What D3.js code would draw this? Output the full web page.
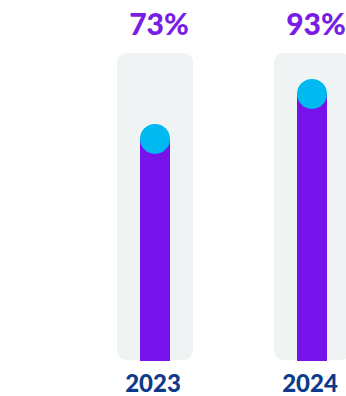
<!DOCTYPE html>
<html>
<head>
<meta charset="utf-8">
<script src="https://cdn.jsdelivr.net/npm/d3@7"></script>
<style>
  html, body { margin: 0; padding: 0; background: #ffffff; }
  svg { display: block; }
</style>
</head>
<body>
<script>
// Share by year
const years = ["2023", "2024"];
const values = [73, 93];
const valueLabels = ["73%", "93%"];

const width = 346, height = 396;
const trackTop = 53, trackBottom = 360;

const svg = d3.select("body").append("svg")
  .attr("width", width)
  .attr("height", height);

// Horizontal placement of each year's column
const x = d3.scalePoint().domain(years).range([155, 312]);

// Vertical value scale; the track starts below zero so every bar keeps a visible stem
const y = d3.scaleLinear().domain([-25.8, 111.2]).range([361, 53]);

const trackW = 76, barW = 30, dotR = 15;

const cols = svg.selectAll("g.col")
  .data(years.map((yr, i) => ({ yr, v: values[i], label: valueLabels[i] })))
  .join("g")
  .attr("class", "col")
  .attr("transform", d => `translate(${x(d.yr)},0)`);

// Light background track
cols.append("rect")
  .attr("x", -trackW / 2)
  .attr("y", trackTop)
  .attr("width", trackW)
  .attr("height", trackBottom - trackTop)
  .attr("rx", 9)
  .attr("fill", "#f0f3f4");

// Value bar
cols.append("rect")
  .attr("x", -barW / 2)
  .attr("y", d => y(d.v))
  .attr("width", barW)
  .attr("height", d => y.range()[0] - y(d.v))
  .attr("fill", "#7612ea");

// Marker at the bar's tip
cols.append("circle")
  .attr("cx", 0)
  .attr("cy", d => y(d.v))
  .attr("r", dotR)
  .attr("fill", "#00b9f1");

// Percentage label above the track
cols.append("text")
  .attr("x", 4)
  .attr("y", 35)
  .attr("text-anchor", "middle")
  .attr("font-family", "Lato, sans-serif")
  .attr("font-weight", 900)
  .attr("font-size", 30)
  .attr("fill", "#7a1ce8")
  .text(d => d.label);

// Year label below the track
cols.append("text")
  .attr("x", -2)
  .attr("y", 392)
  .attr("text-anchor", "middle")
  .attr("font-family", "Lato, sans-serif")
  .attr("font-weight", 900)
  .attr("font-size", 24)
  .attr("fill", "#0d3a8a")
  .text(d => d.yr);
</script>
</body>
</html>
